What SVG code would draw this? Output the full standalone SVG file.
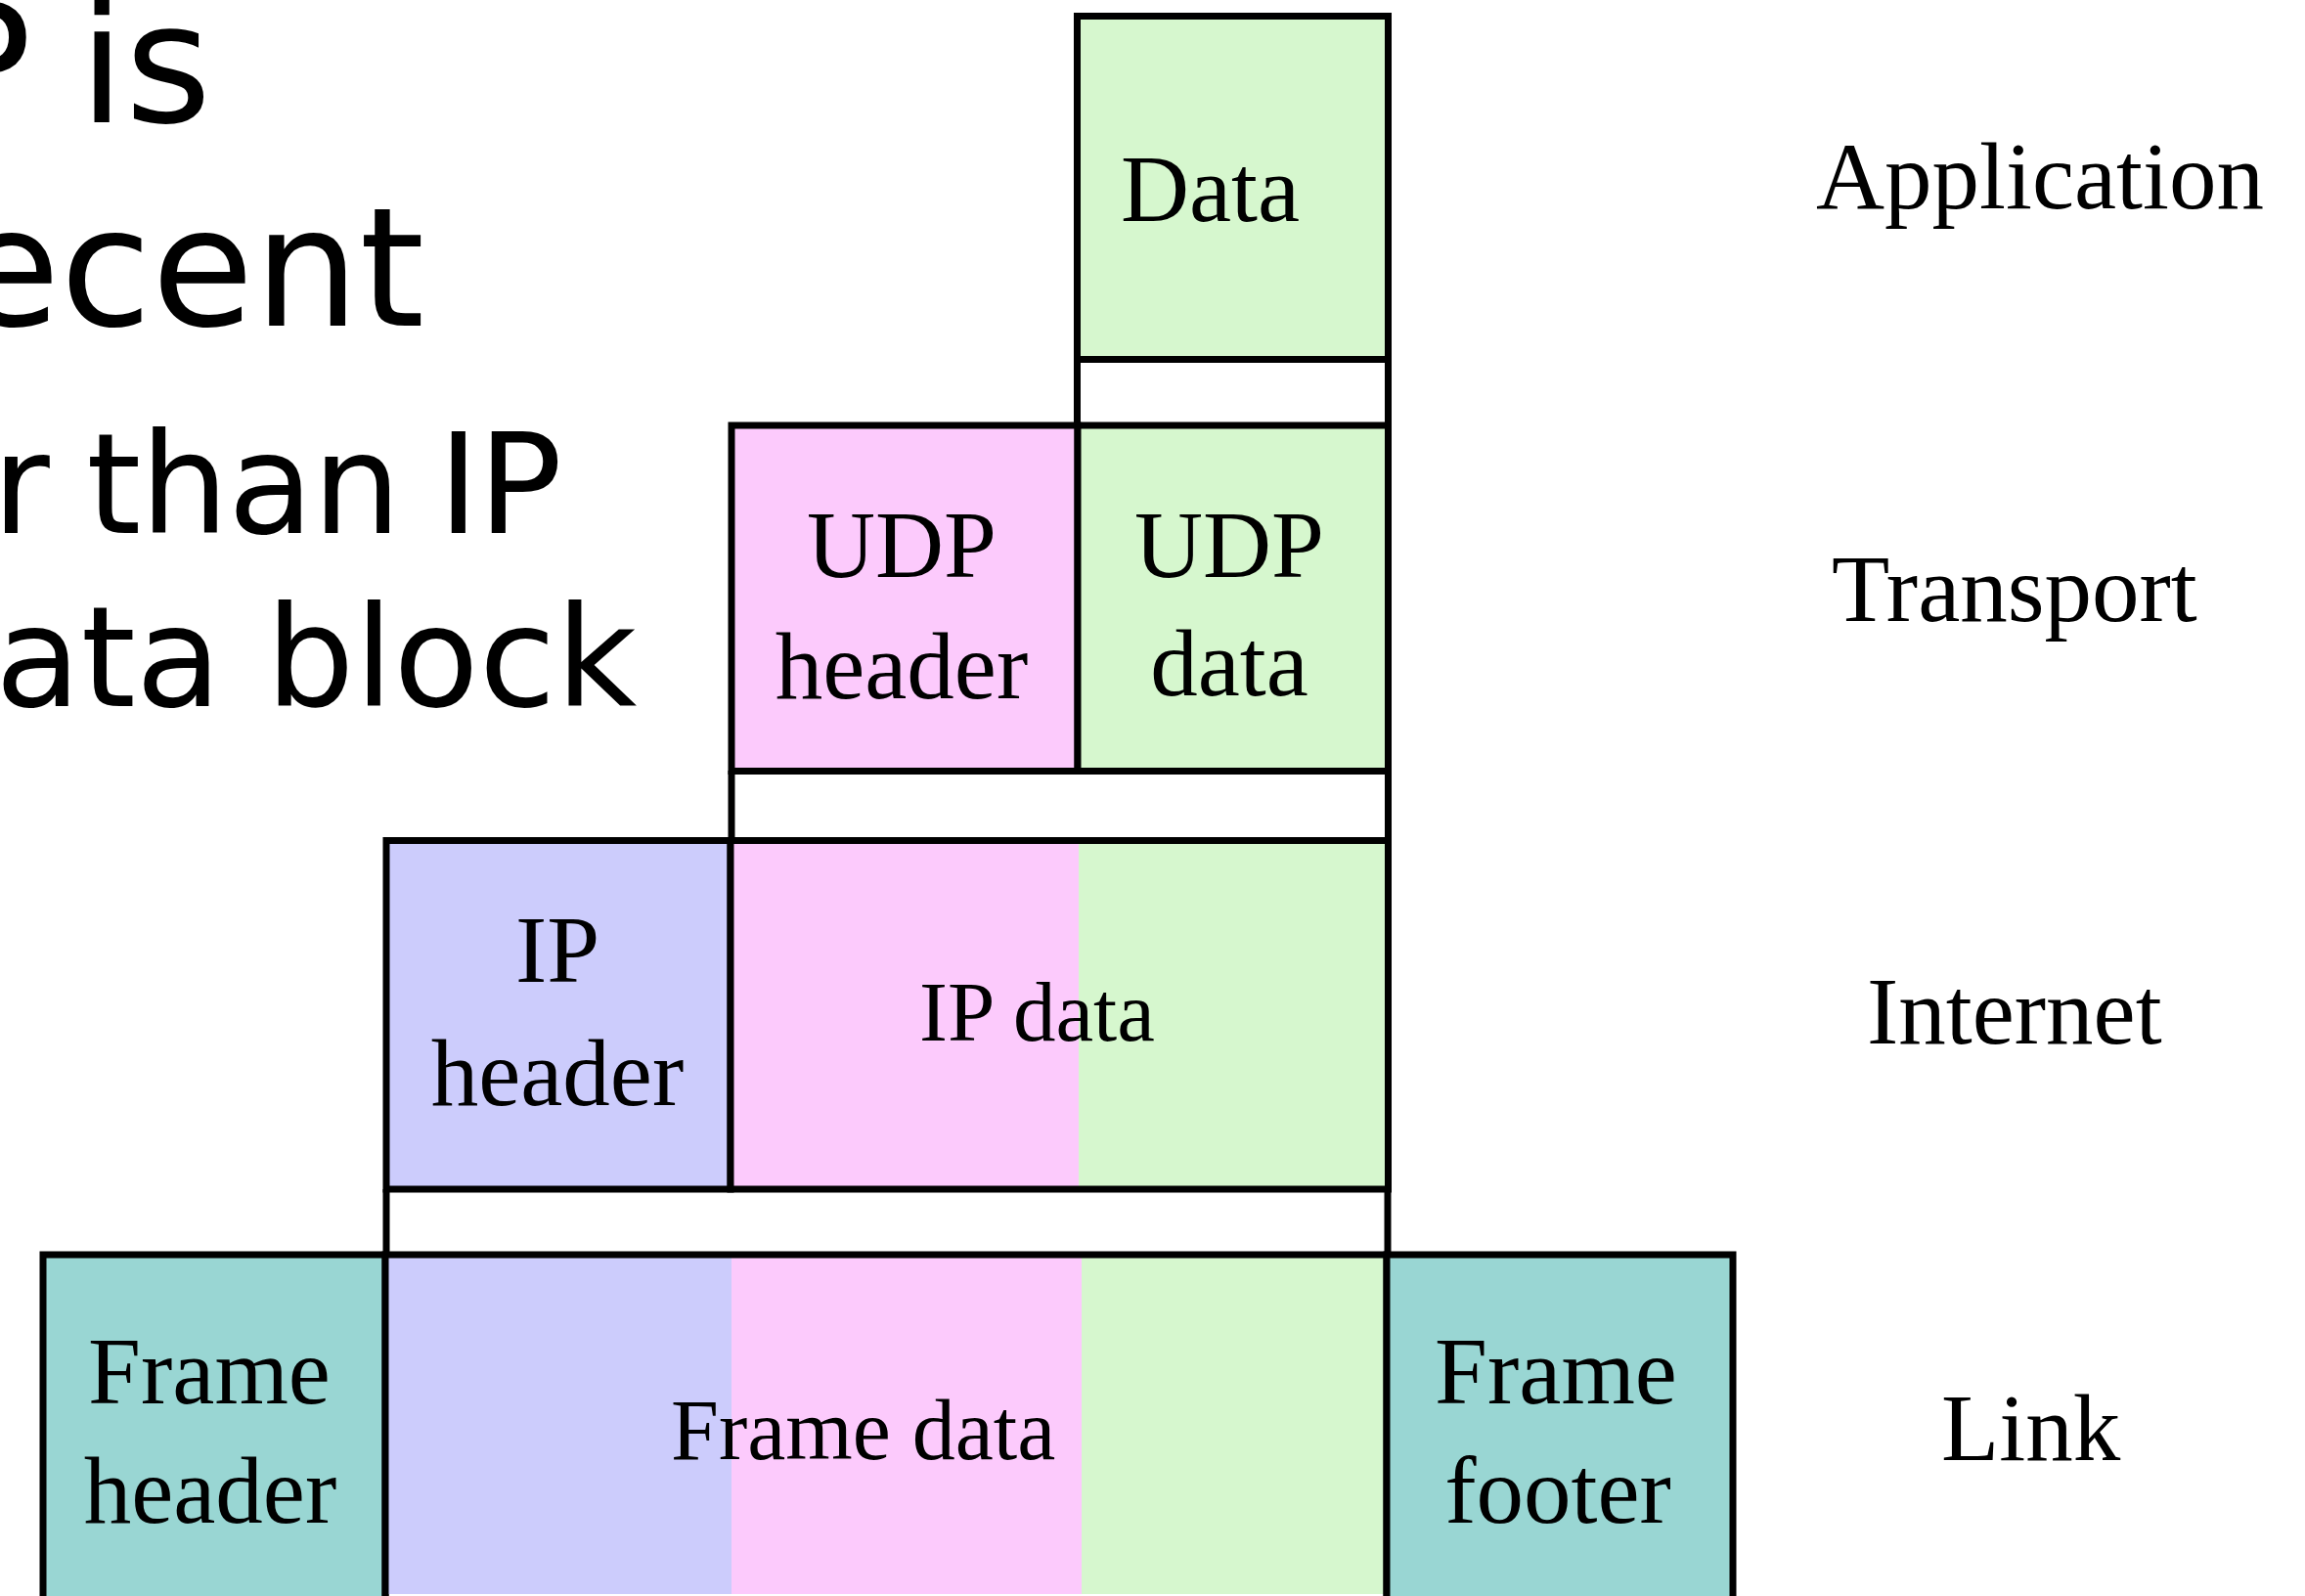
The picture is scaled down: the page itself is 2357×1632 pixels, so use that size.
<svg xmlns="http://www.w3.org/2000/svg" width="2357" height="1632" viewBox="0 0 2357 1632">
<style>
.bx{stroke:#000;stroke-width:7;fill:none}
.g{fill:#D6F7CE}
.p{fill:#FCCAFC}
.b{fill:#CCCCFC}
.t{fill:#99D6D3}
.lb{font-family:"Liberation Serif","Times New Roman",serif;font-size:97px;fill:#000}
.sm{font-size:87px}
.md{text-anchor:middle}
.sl{font-family:"DejaVu Sans",sans-serif;fill:#000}
.cn{stroke:#000;stroke-width:7;fill:none}
</style>
<rect width="2357" height="1632" fill="#fff"/>
<g id="slide-text">
<text class="sl" x="-70" y="125" style="font-size:170px;word-spacing:-6px">P is</text>
<text class="sl" x="-43" y="333" style="font-size:170px">ecent</text>
<text class="sl" x="-8" y="545" style="font-size:143px;word-spacing:-6px;letter-spacing:-1px">r than IP</text>
<text class="sl" x="-5" y="722" style="font-size:143px">ata block</text>
</g>
<g id="connectors">
<line class="cn" x1="1101.5" y1="367" x2="1101.5" y2="436"/>
<line class="cn" x1="1419.5" y1="367" x2="1419.5" y2="436"/>
<line class="cn" x1="748" y1="788" x2="748" y2="860"/>
<line class="cn" x1="1419.5" y1="788" x2="1419.5" y2="860"/>
<line class="cn" x1="395" y1="1216" x2="395" y2="1284"/>
<line class="cn" x1="1419" y1="1216" x2="1419" y2="1284"/>
</g>
<g id="app-data">
<rect class="g" x="1101.5" y="16.5" width="318" height="351"/>
<rect class="bx" x="1101.5" y="16.5" width="318" height="351"/>
<text class="lb" x="1146" y="226">Data</text>
</g>
<g id="udp-header">
<rect class="p" x="748" y="435" width="354" height="353.5"/>
<rect class="bx" x="748" y="435" width="354" height="353.5"/>
<text class="lb md" x="922" y="590">UDP</text>
<text class="lb md" x="922" y="714">header</text>
</g>
<g id="udp-data">
<rect class="g" x="1102" y="435" width="317.5" height="353.5"/>
<rect class="bx" x="1102" y="435" width="317.5" height="353.5"/>
<text class="lb md" x="1257" y="590">UDP</text>
<text class="lb md" x="1257" y="711">data</text>
</g>
<g id="ip-header">
<rect class="b" x="395" y="859.5" width="352" height="356.5"/>
<rect class="bx" x="395" y="859.5" width="352" height="356.5"/>
<text class="lb md" x="570" y="1004">IP</text>
<text class="lb md" x="570" y="1130">header</text>
</g>
<g id="ip-data">
<rect class="p" x="747" y="859.5" width="356" height="356.5"/>
<rect class="g" x="1103" y="859.5" width="316.5" height="356.5"/>
<rect class="bx" x="747" y="859.5" width="672.5" height="356.5"/>
<text class="lb sm" x="940" y="1064">IP data</text>
</g>
<g id="frame-header">
<rect class="t" x="44" y="1283" width="350" height="360"/>
<path class="bx" d="M44,1640V1283H394V1640"/>
<text class="lb md" x="214" y="1435">Frame</text>
<text class="lb md" x="215" y="1557">header</text>
</g>
<g id="frame-data">
<rect class="b" x="394" y="1283" width="354" height="347"/>
<rect class="p" x="748" y="1283" width="358" height="347"/>
<rect class="g" x="1106" y="1283" width="312" height="347"/>
<path class="bx" d="M394,1640V1283H1418V1640"/>
<text class="lb" x="686" y="1492" style="font-size:88px">Frame data</text>
</g>
<g id="frame-footer">
<rect class="t" x="1418" y="1283" width="354" height="360"/>
<path class="bx" d="M1418,1640V1283H1772V1640"/>
<text class="lb md" x="1591" y="1435">Frame</text>
<text class="lb md" x="1593" y="1557">footer</text>
</g>
<g id="layer-labels">
<text class="lb" x="1857" y="213">Application</text>
<text class="lb" x="1873" y="635">Transport</text>
<text class="lb" x="1909" y="1067">Internet</text>
<text class="lb" x="1985" y="1493">Link</text>
</g>
</svg>
